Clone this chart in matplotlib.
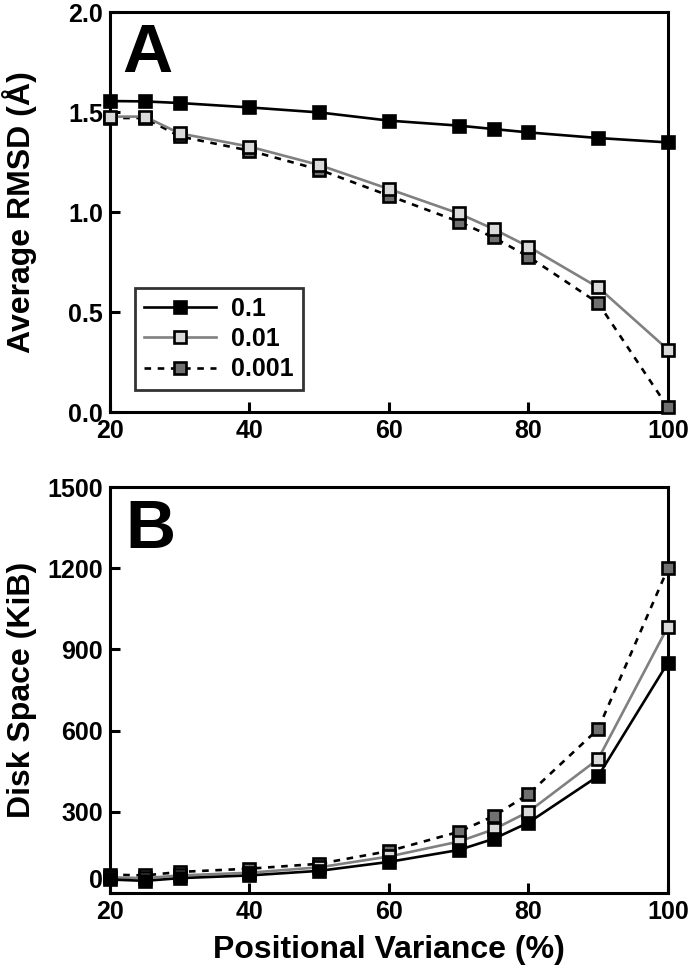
import matplotlib
matplotlib.use('Agg')
import matplotlib.pyplot as plt

# Data
variance = [20, 25, 30, 40, 50, 60, 70, 75, 80, 90, 100]
series_labels = ['0.1', '0.01', '0.001']

rmsd_01 = [1.555, 1.553, 1.545, 1.523, 1.498, 1.457, 1.432, 1.415, 1.398, 1.370, 1.348]
rmsd_001 = [1.477, 1.477, 1.393, 1.327, 1.235, 1.115, 0.993, 0.915, 0.827, 0.623, 0.312]
rmsd_0001 = [1.470, 1.470, 1.378, 1.307, 1.212, 1.082, 0.952, 0.873, 0.777, 0.545, 0.023]

disk_01 = [50, 45, 55, 65, 82, 115, 159, 200, 260, 432, 851]
disk_001 = [58, 55, 65, 75, 95, 135, 190, 235, 300, 495, 984]
disk_0001 = [68, 65, 78, 90, 108, 155, 226, 284, 365, 606, 1199]

plt.rcParams['font.family'] = ['Liberation Sans', 'DejaVu Sans']
plt.rcParams['font.weight'] = 'bold'

styles = [
    dict(color='black', ls='-', mfc='black'),
    dict(color='#808080', ls='-', mfc='#d9d9d9'),
    dict(color='black', ls=(0, (2.5, 2.5)), mfc='#707070'),
]

fig = plt.figure(figsize=(6.9, 9.69), dpi=100)
ax1 = fig.add_axes([0.1594, 0.5748, 0.8086, 0.4128])
ax2 = fig.add_axes([0.1594, 0.0784, 0.8086, 0.4190])

for ax, data in [(ax1, [rmsd_01, rmsd_001, rmsd_0001]), (ax2, [disk_01, disk_001, disk_0001])]:
    order = [0, 1, 2] if ax is ax1 else [2, 1, 0]
    for i in order:
        st = styles[i]
        ax.plot(variance, data[i], color=st['color'], ls=st['ls'], lw=1.9,
                marker='s', ms=9, mfc=st['mfc'], mec='black', mew=1.9,
                label=series_labels[i], clip_on=False, zorder=3 + (2 - i))
    ax.set_xlim(20, 100)
    ax.set_xticks([20, 40, 60, 80, 100])
    ax.tick_params(direction='in', length=7, width=2.2, labelsize=18, pad=5)
    for s in ax.spines.values():
        s.set_linewidth(2.2)

ax1.set_ylim(0, 2.0)
ax1.set_yticks([0.0, 0.5, 1.0, 1.5, 2.0])
ax1.set_yticklabels(['0.0', '0.5', '1.0', '1.5', '2.0'])
ax1.set_ylabel('Average RMSD (Å)', fontsize=23, fontweight='bold')
ax1.yaxis.set_label_coords(-0.13, 0.5)
ax1.text(0.022, 0.85, 'A', transform=ax1.transAxes, fontsize=50, fontweight='bold')

h, l = ax1.get_legend_handles_labels()
leg = ax1.legend(h, l, loc='lower left', bbox_to_anchor=(0.045, 0.055), fontsize=18,
                 handlelength=2.9, frameon=True, fancybox=False, edgecolor='black',
                 borderpad=0.35, labelspacing=0.25, handletextpad=0.6, borderaxespad=0)
leg.get_frame().set_linewidth(2.0)

ax2.set_ylim(0, 1500)
ax2.set_yticks([0, 300, 600, 900, 1200, 1500])
ax2.set_ylabel('Disk Space (KiB)', fontsize=23, fontweight='bold')
ax2.yaxis.set_label_coords(-0.13, 0.5)
ax2.set_xlabel('Positional Variance (%)', fontsize=23, fontweight='bold', labelpad=8)
ax2.text(0.027, 0.85, 'B', transform=ax2.transAxes, fontsize=50, fontweight='bold')
# the "0" label sits a little above the corner in the reference
ax2.yaxis.get_major_ticks()[0].label1.set_verticalalignment('bottom')

fig.savefig('out.png', dpi=100)
